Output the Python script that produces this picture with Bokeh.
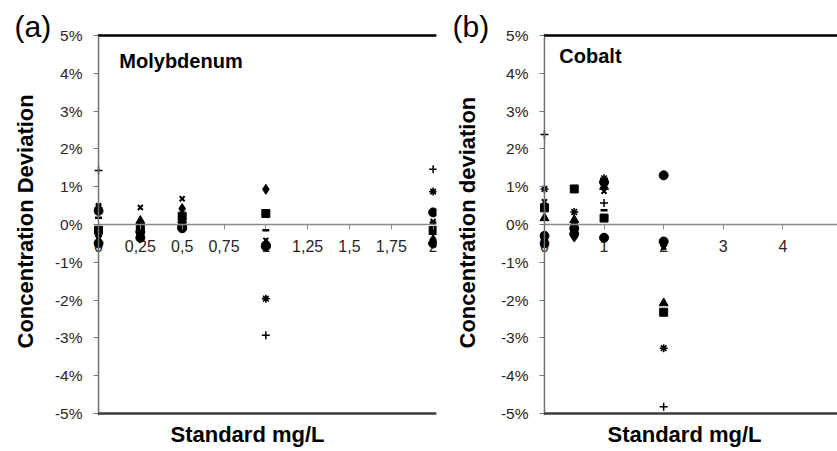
import math
from bokeh.plotting import figure
from bokeh.models import (Range1d, FixedTicker, Span, Label, LabelSet, LinearAxis,
                          Band, ColumnDataSource, Title)
from bokeh.layouts import row
from bokeh.embed import file_html
from bokeh.resources import INLINE
from bokeh.core.properties import value

# ---------------- data (percent deviation) ----------------
series_markers = ["diamond", "square", "triangle", "x", "asterisk", "circle", "cross", "dash", "circle"]

mo_std = [0, 0.25, 0.5, 1, 2]
mo_diamond = [-0.30, 0.02, 0.42, 0.93, -0.40]
mo_square = [-0.15, -0.10, 0.22, 0.29, -0.16]
mo_triangle = [-0.42, 0.10, 0.12, -0.50, -0.45]
mo_xmark = [0.50, 0.45, 0.68, -0.42, 0.08]
mo_star = [0.45, -0.30, 0.05, -1.96, 0.87]
mo_circle = [0.36, -0.20, -0.10, -0.55, 0.32]
mo_plus = [1.43, -0.12, 0.15, -2.93, 1.46]
mo_dash = [0.18, -0.05, 0.20, -0.15, 0.05]
mo_circle2 = [-0.50, -0.35, -0.05, -0.58, -0.50]

co_std = [0, 0.5, 1, 2]
co_diamond = [-0.40, -0.33, 1.05, -0.55]
co_square = [0.44, 0.94, 0.17, -2.32]
co_triangle = [0.17, 0.12, 1.00, -2.08]
co_xmark = [0.60, -0.05, 0.88, -0.60]
co_star = [0.94, 0.33, 1.22, -3.27]
co_circle = [-0.30, -0.10, 1.12, 1.30]
co_plus = [2.38, -0.20, 0.57, -4.82]
co_dash = [-0.45, 0.00, 0.38, -0.50]
co_circle2 = [-0.50, -0.25, -0.35, -0.45]

y_ticks = [-5, -4, -3, -2, -1, 0, 1, 2, 3, 4, 5]
y_tick_labels = ["-5%", "-4%", "-3%", "-2%", "-1%", "0%", "1%", "2%", "3%", "4%", "5%"]
mo_ticks = [0, 0.25, 0.5, 0.75, 1, 1.25, 1.5, 1.75, 2]
mo_tick_labels = ["0", "0,25", "0,5", "0,75", "1", "1,25", "1,5", "1,75", "2"]
co_ticks = [0, 1, 2, 3, 4]
co_tick_labels = ["0", "1", "2", "3", "4"]

# ---------------- styling ----------------
H = 451
FONT = "Liberation Sans"
Y0, Y1 = -5.05, 5.05
FRAME_TOP, FRAME_BOTTOM = 33, 415   # frame edges (px) in the page

marker_style = {
    "diamond": dict(size=10, line_width=1),
    "square": dict(size=8, line_width=1),
    "triangle": dict(size=9, line_width=1),
    "x": dict(size=7, line_width=2),
    "asterisk": dict(size=8, line_width=1.6),
    "circle": dict(size=9, line_width=1),
    "cross": dict(size=8, line_width=1.5),
    "dash": dict(size=7, line_width=2.5),
}


def panel(xs, ys_list, ticks, tick_labels, fig_left, fig_right, frame_left, frame_right,
          x0, x1, tag, tag_x, name, name_xy, ytitle, ytitle_standoff, xtitle_x):
    width = fig_right - fig_left
    p = figure(width=width, height=H, x_range=Range1d(x0, x1), y_range=Range1d(Y0, Y1),
               output_backend="svg", toolbar_location=None,
               x_axis_location=None, y_axis_location=None, title=tag,
               min_border_left=frame_left - fig_left,
               min_border_right=fig_right - frame_right,
               min_border_top=FRAME_TOP, min_border_bottom=H - FRAME_BOTTOM)
    p.grid.visible = False
    p.outline_line_color = None

    # panel tag "(a)" / "(b)"
    p.title.align = "left"
    p.title.offset = tag_x - frame_left
    p.title.standoff = -18
    p.title.vertical_align = "bottom"
    p.title.text_font = FONT
    p.title.text_font_size = "30px"
    p.title.text_font_style = "normal"
    p.title.text_color = "black"

    # y axis (ticks point in from the frame edge to the x=0 line)
    yaxis = LinearAxis(ticker=FixedTicker(ticks=y_ticks), bounds=(-5, 5),
                       major_label_overrides={t: l for t, l in zip(y_ticks, y_tick_labels)})
    yaxis.axis_line_color = None
    yaxis.major_tick_line_color = "#777777"
    yaxis.major_tick_in = round((0 - x0) / (x1 - x0) * (frame_right - frame_left))
    yaxis.major_tick_out = 0
    yaxis.minor_tick_line_color = None
    yaxis.major_label_standoff = 11
    yaxis.major_label_text_font = FONT
    yaxis.major_label_text_font_size = "15.5px"
    yaxis.major_label_text_color = "#262626"
    p.add_layout(yaxis, "left")

    # y axis title
    p.add_layout(Title(text=ytitle, align="left", vertical_align="top", offset=67,
                       standoff=ytitle_standoff, text_font=FONT, text_font_size="22px",
                       text_font_style="bold", text_color="black"), "left")

    # zero line with its tick marks (ticks point down)
    xaxis = LinearAxis(fixed_location=0, ticker=FixedTicker(ticks=ticks), bounds=(0, x1))
    xaxis.axis_line_color = "#8a8a8a"
    xaxis.axis_line_width = 1.5
    xaxis.major_tick_line_color = "#8a8a8a"
    xaxis.major_tick_in = 5
    xaxis.major_tick_out = 0
    xaxis.minor_tick_line_color = None
    xaxis.major_label_standoff = 0
    xaxis.major_label_text_font_size = "0px"
    xaxis.major_label_text_color = None
    p.add_layout(xaxis, "above")

    # x axis title
    p.add_layout(Title(text="Standard mg/L", align="left", vertical_align="bottom",
                       offset=xtitle_x - frame_left, standoff=8, text_font=FONT,
                       text_font_size="22px", text_font_style="bold",
                       text_color="black"), "below")

    # vertical axis line at x = 0
    p.add_layout(Span(location=0, dimension="height", line_color="#707070", line_width=1.5))
    # top and bottom frame lines (from x = 0 to the right edge)
    top_src = ColumnDataSource(dict(base=[0, x1], lower=[5, 5], upper=[5, 5]))
    p.add_layout(Band(base="base", lower="lower", upper="upper", source=top_src,
                      fill_alpha=0, line_alpha=1, line_color="black", line_width=2))
    bot_src = ColumnDataSource(dict(base=[0, x1], lower=[-5, -5], upper=[-5, -5]))
    p.add_layout(Band(base="base", lower="lower", upper="upper", source=bot_src,
                      fill_alpha=0, line_alpha=1, line_color="#3c3c3c", line_width=2))

    # tick labels below the zero line
    lab_src = ColumnDataSource(dict(x=ticks, y=[0] * len(ticks), t=tick_labels))
    p.add_layout(LabelSet(x="x", y="y", text="t", source=lab_src, y_offset=-27,
                          text_font=value(FONT), text_font_size=value("16px"),
                          text_color="#262626", text_align="center",
                          text_baseline="alphabetic", level="underlay"))

    for marker, ys in zip(series_markers, ys_list):
        st = marker_style[marker]
        p.scatter(xs, ys, marker=marker, size=st["size"], line_width=st["line_width"],
                  line_color="black", fill_color="black")

    # element name inside the frame
    px_per_x = (frame_right - frame_left) / (x1 - x0)
    px_per_y = (FRAME_BOTTOM - FRAME_TOP) / (Y1 - Y0)
    nx = x0 + (name_xy[0] - frame_left) / px_per_x
    ny = Y1 - (name_xy[1] - FRAME_TOP) / px_per_y
    p.add_layout(Label(x=nx, y=ny, text=name, text_font=FONT, text_font_size="20px",
                       text_font_style="bold", text_align="left",
                       text_baseline="middle", text_color="black"))
    return p


pa = panel(mo_std,
           [mo_diamond, mo_square, mo_triangle, mo_xmark, mo_star, mo_circle, mo_plus, mo_dash, mo_circle2],
           mo_ticks, mo_tick_labels, 0, 438, 91, 436, -0.03, 2.02,
           "(a)", 12, "Molybdenum", (117, 60), "Concentration Deviation", 24, 168)

pb = panel(co_std,
           [co_diamond, co_square, co_triangle, co_xmark, co_star, co_circle, co_plus, co_dash, co_circle2],
           co_ticks, co_tick_labels, 438, 837, 537, 837, -0.0833, 4.9167,
           "(b)", 450, "Cobalt", (557, 55), "Concentration deviation", 32, 605)

layout = row(pa, pb)
open("out.html", "w").write(file_html(layout, INLINE))
